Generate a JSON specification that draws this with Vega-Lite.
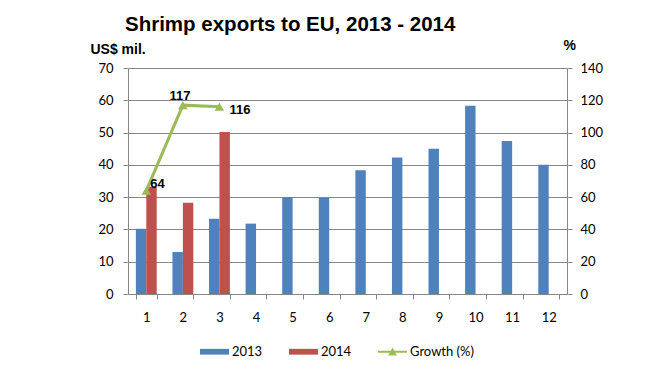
{
  "$schema": "https://vega.github.io/schema/vega-lite/v6.json",
  "width": 439,
  "height": 226,
  "autosize": {"type": "none"},
  "padding": {"left": 128, "top": 68, "right": 81, "bottom": 77},
  "background": "white",
  "title": {
    "text": "Shrimp exports to EU, 2013 - 2014",
    "anchor": "start",
    "frame": "group",
    "dx": -3,
    "offset": 3,
    "font": "Liberation Sans",
    "fontSize": 20.5,
    "fontWeight": "bold",
    "color": "black"
  },
  "config": {
    "font": "Lato",
    "view": {"stroke": null},
    "axis": {"labelFont": "Lato", "labelFontSize": 13, "labelColor": "black", "domainColor": "#868686", "tickColor": "#868686", "gridColor": "#868686", "tickSize": 5}
  },
  "data": {
    "values": [
      {"month": 1, "series": "2013", "value": 20.2, "growth": 64},
      {"month": 1, "series": "2014", "value": 33.2, "growth": 64},
      {"month": 2, "series": "2013", "value": 13.0, "growth": 117},
      {"month": 2, "series": "2014", "value": 28.3, "growth": 117},
      {"month": 3, "series": "2013", "value": 23.3, "growth": 116},
      {"month": 3, "series": "2014", "value": 50.2, "growth": 116},
      {"month": 4, "series": "2013", "value": 21.8, "growth": null},
      {"month": 4, "series": "2014", "value": null, "growth": null},
      {"month": 5, "series": "2013", "value": 30.0, "growth": null},
      {"month": 5, "series": "2014", "value": null, "growth": null},
      {"month": 6, "series": "2013", "value": 29.7, "growth": null},
      {"month": 6, "series": "2014", "value": null, "growth": null},
      {"month": 7, "series": "2013", "value": 38.3, "growth": null},
      {"month": 7, "series": "2014", "value": null, "growth": null},
      {"month": 8, "series": "2013", "value": 42.3, "growth": null},
      {"month": 8, "series": "2014", "value": null, "growth": null},
      {"month": 9, "series": "2013", "value": 45.0, "growth": null},
      {"month": 9, "series": "2014", "value": null, "growth": null},
      {"month": 10, "series": "2013", "value": 58.3, "growth": null},
      {"month": 10, "series": "2014", "value": null, "growth": null},
      {"month": 11, "series": "2013", "value": 47.4, "growth": null},
      {"month": 11, "series": "2014", "value": null, "growth": null},
      {"month": 12, "series": "2013", "value": 40.0, "growth": null},
      {"month": 12, "series": "2014", "value": null, "growth": null}
    ]
  },
  "encoding": {
    "x": {
      "field": "month",
      "type": "ordinal",
      "scale": {"paddingInner": 0.43, "paddingOuter": 0.215},
      "axis": {"title": null, "labelAngle": 0, "labelPadding": 12, "tickBand": "extent", "grid": false}
    }
  },
  "layer": [
    {
      "encoding": {
        "y": {
          "field": "value",
          "type": "quantitative",
          "scale": {"domain": [0, 70], "nice": false},
          "axis": {"title": "US$ mil.", "titleAngle": 0, "titleAlign": "left", "titleBaseline": "alphabetic", "titleX": -38, "titleY": -15, "titleFont": "Liberation Sans", "titleFontSize": 14, "titleFontWeight": "bold", "titleColor": "black", "values": [0, 10, 20, 30, 40, 50, 60, 70], "labelPadding": 10, "grid": true, "gridColor": "#868686", "gridWidth": 1, "labelOverlap": false}
        },
        "color": {
          "field": "series",
          "type": "nominal",
          "scale": {"domain": ["2013", "2014", "Growth (%)"], "range": ["#4F81BD", "#C0504D", "#9BBB59"]},
          "legend": {
            "title": null,
            "orient": "none",
            "direction": "horizontal",
            "legendX": 72,
            "legendY": 269,
            "labelFont": "Lato",
            "labelFontSize": 13,
            "labelColor": "black",
            "labelOffset": 3,
            "columnPadding": 26,
            "symbolSize": 841,
            "symbolStrokeWidth": 0
          }
        }
      },
      "layer": [
        {
          "mark": {"type": "bar"},
          "encoding": {
            "xOffset": {"field": "series", "type": "nominal", "scale": {"domain": ["2013", "2014"], "paddingInner": 0, "paddingOuter": 0}}
          }
        },
        {
          "transform": [{"filter": "datum.value == null"}],
          "mark": {"type": "point", "filled": true, "opacity": 1},
          "encoding": {
            "shape": {
              "field": "series",
              "type": "nominal",
              "scale": {"domain": ["2013", "2014", "Growth (%)"], "range": ["M-1,-0.2H1V0.2H-1Z", "M-1,-0.2H1V0.2H-1Z", "M-1,-0.07H1V0.07H-1Z M-0.3,0.26L0,-0.3L0.3,0.26Z"]},
              "legend": {"title": null}
            }
          }
        }
      ]
    },
    {
      "transform": [{"filter": "datum.series === '2013' && datum.growth != null"}],
      "encoding": {
        "y": {"field": "growth", "type": "quantitative", "scale": {"domain": [0, 140], "nice": false}, "axis": {"title": "%", "orient": "right", "titleAngle": 0, "titleAlign": "left", "titleBaseline": "alphabetic", "titleX": -4, "titleY": -19, "titleFont": "Liberation Sans", "titleFontSize": 14, "titleFontWeight": "bold", "titleColor": "black", "values": [0, 20, 40, 60, 80, 100, 120, 140], "labelPadding": 8, "grid": false, "labelOverlap": false}}
      },
      "layer": [
        {
          "mark": {"type": "line", "color": "#9BBB59", "strokeWidth": 3}
        },
        {
          "mark": {"type": "point", "shape": "triangle-up", "filled": true, "color": "#9BBB59", "size": 90, "opacity": 1}
        },
        {
          "transform": [{"filter": "datum.month === 1"}],
          "mark": {"type": "text", "align": "left", "baseline": "middle", "dx": 4, "dy": -7, "font": "Liberation Sans", "fontSize": 13, "fontWeight": "bold", "color": "black"},
          "encoding": {"text": {"field": "growth"}}
        },
        {
          "transform": [{"filter": "datum.month === 2"}],
          "mark": {"type": "text", "align": "center", "baseline": "bottom", "dx": -3, "dy": -2, "font": "Liberation Sans", "fontSize": 13, "fontWeight": "bold", "color": "black"},
          "encoding": {"text": {"field": "growth"}}
        },
        {
          "transform": [{"filter": "datum.month === 3"}],
          "mark": {"type": "text", "align": "left", "baseline": "middle", "dx": 10, "dy": 3, "font": "Liberation Sans", "fontSize": 13, "fontWeight": "bold", "color": "black"},
          "encoding": {"text": {"field": "growth"}}
        }
      ]
    }
  ],
  "resolve": {"scale": {"y": "independent"}}
}
